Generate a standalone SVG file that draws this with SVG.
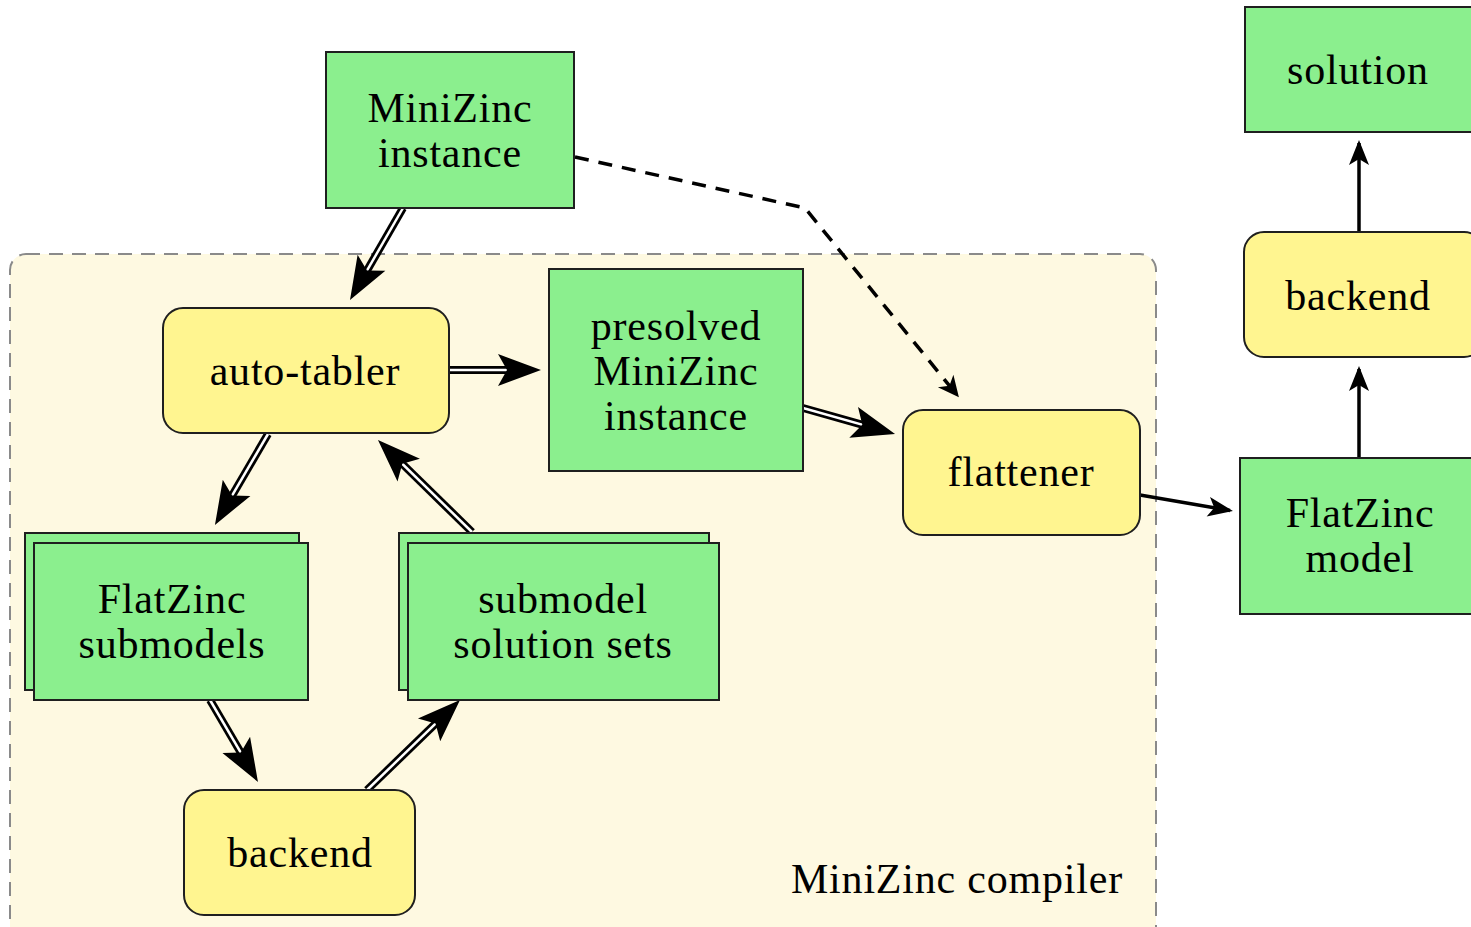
<svg xmlns="http://www.w3.org/2000/svg" width="1471" height="927" viewBox="0 0 1471 927">
  <style>
    .txt { font-family: "Liberation Serif", "DejaVu Serif", serif; font-size: 42px; fill: #000; text-anchor: middle; letter-spacing: 0.8px; }
    .data { fill: #8BEF8E; stroke: #1f1f1f; stroke-width: 2; }
    .proc { fill: #FFF590; stroke: #1f1f1f; stroke-width: 2; }
    .dbl-out { stroke: #000; stroke-width: 8; fill: none; }
    .dbl-in { stroke: #fff; stroke-width: 2.5; fill: none; }
    .single { stroke: #000; stroke-width: 3.5; fill: none; }
    .dashed { stroke: #000; stroke-width: 3.5; fill: none; stroke-dasharray: 14 10; }
  </style>
  <defs>
    <!-- big stealth head; tip sits 15 units past the path end -->
    <marker id="bighead" markerUnits="userSpaceOnUse" viewBox="-30 -18 48 36" refX="0" refY="0" markerWidth="48" markerHeight="36" orient="auto" overflow="visible">
      <path d="M15,0 L-28,-16 L-19,0 L-28,16 Z" fill="#000"/>
    </marker>
    <marker id="head" markerUnits="userSpaceOnUse" viewBox="-25 -12 30 24" refX="0" refY="0" markerWidth="30" markerHeight="24" orient="auto" overflow="visible">
      <path d="M3,0 L-22,-10 L-16,0 L-22,10 Z" fill="#000"/>
    </marker>
    <marker id="smallhead" markerUnits="userSpaceOnUse" viewBox="-22 -11 26 22" refX="0" refY="0" markerWidth="26" markerHeight="22" orient="auto" overflow="visible">
      <path d="M3,0 L-18,-10 L-12,0 L-18,10 Z" fill="#000"/>
    </marker>
  </defs>

  <rect width="1471" height="927" fill="#fff"/>

  <!-- compiler region -->
  <g id="compiler">
    <rect x="10" y="254" width="1146" height="700" rx="16" ry="16" fill="#FEF9E1" stroke="#8a8a8a" stroke-width="2" stroke-dasharray="14 9"/>
    <text class="txt" x="1123" y="893" style="text-anchor:end">MiniZinc compiler</text>
  </g>

  <g id="connectors">
    <!-- dashed bypass into the flattener -->
    <path class="dashed" d="M575,157 L805,208 L957,395" marker-end="url(#smallhead)"/>

    <!-- instance -> auto-tabler -->
    <path class="dbl-out" d="M403,208 L357.5,287"/>
    <path class="dbl-in" d="M403,208 L357.5,287" marker-end="url(#bighead)"/>
    <!-- auto-tabler -> presolved -->
    <path class="dbl-out" d="M449,370 L526,370"/>
    <path class="dbl-in" d="M449,370 L526,370" marker-end="url(#bighead)"/>
    <!-- presolved -> flattener -->
    <path class="dbl-out" d="M803,408 L880.6,429.9"/>
    <path class="dbl-in" d="M803,408 L880.6,429.9" marker-end="url(#bighead)"/>
    <!-- auto-tabler -> FlatZinc submodels -->
    <path class="dbl-out" d="M268,434 L222.5,512"/>
    <path class="dbl-in" d="M268,434 L222.5,512" marker-end="url(#bighead)"/>
    <!-- solution sets -> auto-tabler -->
    <path class="dbl-out" d="M472,532 L388.7,450.5"/>
    <path class="dbl-in" d="M472,532 L388.7,450.5" marker-end="url(#bighead)"/>
    <!-- FlatZinc submodels -> backend -->
    <path class="dbl-out" d="M210,700 L250.4,769"/>
    <path class="dbl-in" d="M210,700 L250.4,769" marker-end="url(#bighead)"/>
    <!-- backend -> solution sets -->
    <path class="dbl-out" d="M367,790 L449.2,710.4"/>
    <path class="dbl-in" d="M367,790 L449.2,710.4" marker-end="url(#bighead)"/>

    <!-- flattener -> FlatZinc model -->
    <path class="single" d="M1140,495 L1230,510.5" marker-end="url(#head)"/>
    <!-- FlatZinc model -> backend -->
    <path class="single" d="M1359,458 L1359,369" marker-end="url(#head)"/>
    <!-- backend -> solution -->
    <path class="single" d="M1359,232 L1359,143" marker-end="url(#head)"/>
  </g>

  <g id="minizinc-instance">
    <rect class="data" x="326" y="52" width="248" height="156"/>
    <text class="txt" x="450" y="122">MiniZinc</text>
    <text class="txt" x="450" y="167">instance</text>
  </g>

  <g id="auto-tabler">
    <rect class="proc" x="163" y="308" width="286" height="125" rx="20" ry="20"/>
    <text class="txt" x="305" y="385">auto-tabler</text>
  </g>

  <g id="presolved-instance">
    <rect class="data" x="549" y="269" width="254" height="202"/>
    <text class="txt" x="676" y="340">presolved</text>
    <text class="txt" x="676" y="385">MiniZinc</text>
    <text class="txt" x="676" y="430">instance</text>
  </g>

  <g id="flattener">
    <rect class="proc" x="903" y="410" width="237" height="125" rx="20" ry="20"/>
    <text class="txt" x="1021" y="486">flattener</text>
  </g>

  <g id="flatzinc-submodels">
    <rect class="data" x="25" y="533" width="274" height="157"/>
    <rect class="data" x="34" y="543" width="274" height="157"/>
    <text class="txt" x="172" y="613">FlatZinc</text>
    <text class="txt" x="172" y="658">submodels</text>
  </g>

  <g id="solution-sets">
    <rect class="data" x="399" y="533" width="310" height="157"/>
    <rect class="data" x="408" y="543" width="311" height="157"/>
    <text class="txt" x="563" y="613">submodel</text>
    <text class="txt" x="563" y="658">solution sets</text>
  </g>

  <g id="backend-inner">
    <rect class="proc" x="184" y="790" width="231" height="125" rx="20" ry="20"/>
    <text class="txt" x="300" y="867">backend</text>
  </g>

  <g id="solution">
    <rect class="data" x="1245" y="7" width="240" height="125"/>
    <text class="txt" x="1358" y="84">solution</text>
  </g>

  <g id="backend-outer">
    <rect class="proc" x="1244" y="232" width="240" height="125" rx="20" ry="20"/>
    <text class="txt" x="1358" y="310">backend</text>
  </g>

  <g id="flatzinc-model">
    <rect class="data" x="1240" y="458" width="245" height="156"/>
    <text class="txt" x="1360" y="527">FlatZinc</text>
    <text class="txt" x="1360" y="572">model</text>
  </g>
</svg>
